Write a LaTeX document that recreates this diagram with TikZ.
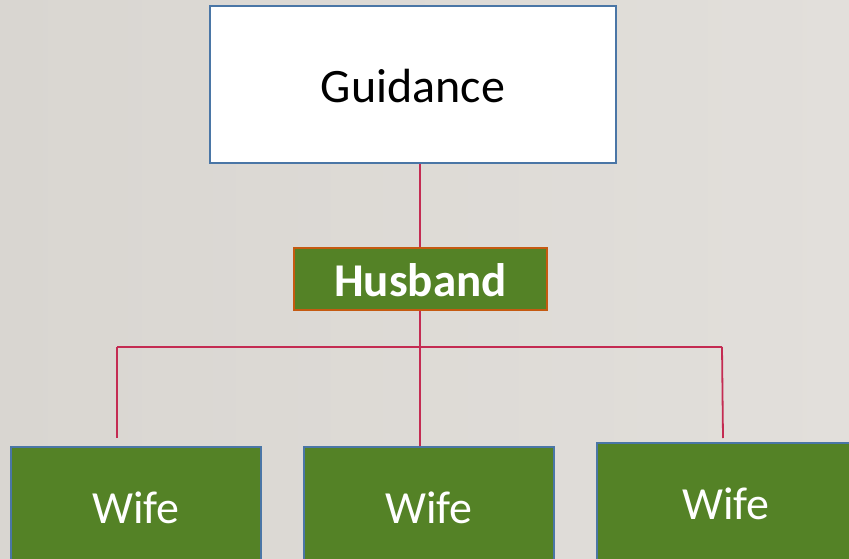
\documentclass[tikz,border=0pt]{standalone}
\usepackage{fontspec}
\setmainfont{Carlito}
\definecolor{bgL}{HTML}{D9D6D1}
\definecolor{bgR}{HTML}{E2DFDB}
\definecolor{boxgreen}{HTML}{548226}
\definecolor{boxblue}{HTML}{4A76A6}
\definecolor{boxorange}{HTML}{C55A11}
\definecolor{connred}{HTML}{C42B52}
\tikzset{
  boxbase/.style={rectangle, line width=2.5pt, inner sep=0pt, text depth=0pt, align=center},
  whitebox/.style={boxbase, draw=boxblue, fill=white, text=black,
    font=\fontsize{48}{56}\selectfont, text height=36pt},
  husbox/.style={boxbase, draw=boxorange, fill=boxgreen, text=white,
    font=\fontsize{47}{56}\selectfont\bfseries, text height=34pt},
  wifebox/.style={boxbase, draw=boxblue, fill=boxgreen, text=white,
    font=\fontsize{46}{56}\selectfont, text height=32pt},
  conn/.style={draw=connred, line width=1.8pt}
}
\begin{document}
\begin{tikzpicture}[x=1pt,y=-1pt]
\useasboundingbox (0,0) rectangle (849,559);
\clip (0,0) rectangle (849,559);
\fill[left color=bgL, right color=bgR] (0,0) rectangle (849,559);

\node[whitebox, minimum width=406pt, minimum height=157pt] (guid) at (413,84.5) {Guidance};
\node[husbox, minimum width=253pt, minimum height=62pt] (hus) at (420.5,279) {Husband};
\node[wifebox, minimum width=250pt, minimum height=120pt] (w1) at (136,507) {Wife};
\node[wifebox, minimum width=250pt, minimum height=120pt] (w2) at (429,507) {Wife};
\node[wifebox, minimum width=258pt, minimum height=120pt] (w3) at (726,503) {Wife};

\coordinate (hL) at (117,347);
\coordinate (hM) at (420,347);
\coordinate (hR) at (722,347);
\coordinate (eL) at (117,438);
\coordinate (eR) at (723,438);

\draw[conn] (guid.south -| hM) -- (hus.north -| hM);
\draw[conn] (hus.south -| hM) -- (w2.north -| hM);
\draw[conn] (hL) -- (hR);
\draw[conn] (hL) -- (eL);
\draw[conn] (hR) -- (eR);
\end{tikzpicture}
\end{document}
